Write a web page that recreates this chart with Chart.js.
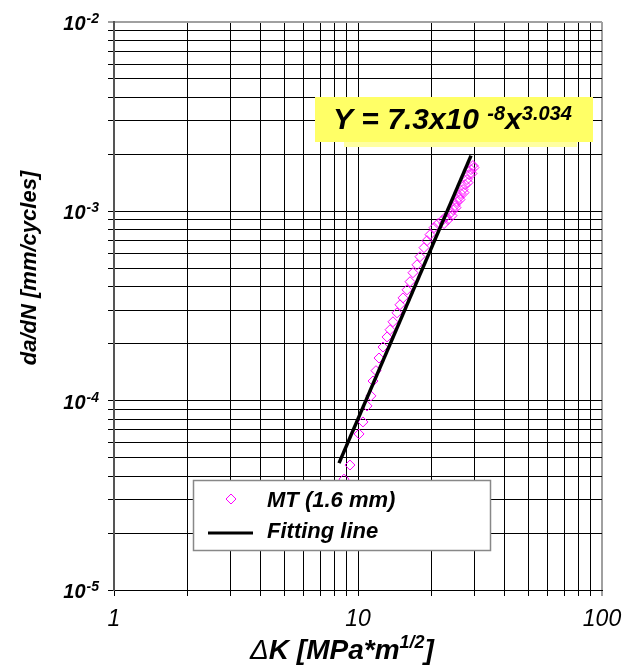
<!DOCTYPE html>
<html>
<head>
<meta charset="utf-8">
<script src="https://cdn.jsdelivr.net/npm/chart.js@4/dist/chart.umd.min.js"></script>
<style>
  body { margin: 0; background: #fff; }
  canvas { display: block; }
</style>
</head>
<body>
<canvas id="crackChart" width="624" height="665"></canvas>
<script>
// ---------------------------
// DATA
// ---------------------------
const mtDK = [8.76, 9.27, 10.1, 10.48, 10.89, 11.30, 11.52, 11.85, 12.19, 12.66,
  13.15, 13.53, 13.91, 14.45, 14.86, 15.29, 15.88, 16.34, 16.80, 17.45,
  17.95, 18.64, 19.18, 19.73, 20.49, 21.28, 22.10, 22.52, 22.95, 23.38,
  23.83, 24.28, 24.51, 24.98, 25.21, 25.45, 25.94, 26.18, 26.43, 26.94,
  27.19, 27.45, 27.97, 28.23, 28.50, 29.05, 29.32, 29.60, 29.88];
const mtRate = [3.85e-5, 4.57e-5, 6.67e-5, 7.72e-5, 9.38e-5, 1.06e-4, 1.27e-4, 1.44e-4, 1.68e-4, 1.92e-4,
  2.17e-4, 2.37e-4, 2.61e-4, 2.91e-4, 3.21e-4, 3.49e-4, 3.85e-4, 4.25e-4, 4.74e-4, 5.22e-4,
  5.76e-4, 6.43e-4, 7.00e-4, 7.53e-4, 8.20e-4, 8.61e-4, 8.93e-4, 8.61e-4, 9.38e-4, 9.04e-4,
  9.72e-4, 9.49e-4, 1.021e-3, 1.072e-3, 1.046e-3, 1.125e-3, 1.182e-3, 1.154e-3, 1.241e-3, 1.303e-3,
  1.256e-3, 1.384e-3, 1.471e-3, 1.418e-3, 1.563e-3, 1.662e-3, 1.583e-3, 1.745e-3, 1.703e-3];

// fitting line end points
const fitDK = [8.36, 29.05];
const fitRate = [4.68e-5, 1.97e-3];

// axes
const xDecades = [1, 10];
const yDecades = [1e-5, 1e-4, 1e-3];
const mantissas = [1, 2, 3, 4, 5, 6, 7, 8, 9];
const xMax = 100, yMax = 1e-2;
const xTickLabels = ['1', '10', '100'];
const yTickExps = ['-5', '-4', '-3', '-2'];

const FONT = '"Liberation Sans", Arial, sans-serif';

function gridValues(decades, top) {
  const out = [];
  decades.forEach(d => mantissas.forEach(m => out.push(+(m * d).toPrecision(3))));
  out.push(top);
  return out;
}
const xGrid = gridValues(xDecades, xMax);
const yGrid = gridValues(yDecades, yMax);

// ---------------------------
// TEXT / BOX OVERLAYS
// ---------------------------
const overlay = {
  id: 'overlay',
  afterDraw(chart) {
    const c = chart.ctx;
    const xs = chart.scales.x, ys = chart.scales.y;
    c.save();
    c.fillStyle = '#000';

    // y tick labels 10^n
    c.textBaseline = 'alphabetic';
    c.textAlign = 'left';
    yTickExps.forEach(e => {
      const py = ys.getPixelForValue(Math.pow(10, Number(e)));
      c.font = 'italic bold 20px ' + FONT;
      const w1 = c.measureText('10').width;
      c.font = 'italic bold 14px ' + FONT;
      const w2 = c.measureText(e).width;
      const x0 = 99 - w1 - w2 - 1;
      c.font = 'italic bold 20px ' + FONT;
      c.fillText('10', x0, py + 8);
      c.font = 'italic bold 14px ' + FONT;
      c.fillText(e, x0 + w1 + 1, py + 1);
    });

    // x tick labels
    c.font = 'italic 23px ' + FONT;
    c.textAlign = 'center';
    xTickLabels.forEach(t => {
      c.fillText(t, xs.getPixelForValue(Number(t)), 626);
    });

    // x title: ΔK [MPa*m^1/2]
    c.textAlign = 'left';
    const parts = [
      ['Δ', 'italic 28px '],
      ['K [MPa*m', 'italic bold 28px '],
      ['1/2', 'italic bold 18px ', -11],
      [']', 'italic bold 28px ']
    ];
    let total = 0;
    parts.forEach(p => { c.font = p[1] + FONT; total += c.measureText(p[0]).width; });
    let x = 342 - total / 2;
    parts.forEach(p => {
      c.font = p[1] + FONT;
      c.fillText(p[0], x, 659 + (p[2] || 0));
      x += c.measureText(p[0]).width;
    });

    // y title
    c.save();
    c.translate(30, 268);
    c.rotate(-Math.PI / 2);
    c.font = 'italic bold 22px ' + FONT;
    c.textAlign = 'center';
    c.textBaseline = 'middle';
    c.fillText('da/dN [mm/cycles]', 0, 0);
    c.restore();

    // equation box
    c.fillStyle = '#ffffa0';
    c.fillRect(344, 104, 233, 43);
    c.fillStyle = '#ffff66';
    c.fillRect(315, 97, 278, 45);
    c.fillStyle = '#000';
    const eq = [
      ['Y = 7.3x10 ', 'italic bold 30px ', 0],
      ['-8', 'italic bold 20px ', -9],
      ['x', 'italic bold 30px ', 0],
      ['3.034', 'italic bold 20px ', -9]
    ];
    x = 333;
    eq.forEach(p => {
      c.font = p[1] + FONT;
      c.fillText(p[0], x, 129 + p[2]);
      x += c.measureText(p[0]).width;
    });

    // legend box
    c.fillStyle = '#fff';
    c.fillRect(193, 480, 297, 70);
    c.strokeStyle = '#888';
    c.lineWidth = 1.5;
    c.strokeRect(193.5, 480.5, 297, 70);
    const ds = chart.data.datasets;
    // marker
    c.strokeStyle = ds[0].borderColor;
    c.lineWidth = 1;
    c.beginPath();
    c.moveTo(231, 494); c.lineTo(236, 499); c.lineTo(231, 504); c.lineTo(226, 499); c.closePath();
    c.stroke();
    // line sample
    c.strokeStyle = ds[1].borderColor;
    c.lineWidth = 3;
    c.beginPath();
    c.moveTo(208, 533); c.lineTo(253, 533);
    c.stroke();
    c.fillStyle = '#000';
    c.font = 'italic bold 22px ' + FONT;
    c.textBaseline = 'middle';
    c.fillText(ds[0].label, 267, 501);
    c.fillText(ds[1].label, 267, 532);
    c.restore();
  }
};

// ---------------------------
// CHART
// ---------------------------
const ctx = document.getElementById('crackChart').getContext('2d');

function gridColor(edge) {
  return c => (c.tick && c.tick.value === edge) ? '#a0a0a0' : '#000';
}
function gridWidth(edge) {
  return c => (c.tick && c.tick.value === edge) ? 2 : 1;
}

new Chart(ctx, {
  type: 'scatter',
  data: {
    datasets: [{
      label: 'MT (1.6 mm)',
      data: mtDK.map((v, i) => ({ x: v, y: mtRate[i] })),
      pointStyle: 'rectRot',
      pointRadius: 5,
      borderColor: '#ff00ff',
      backgroundColor: 'rgba(0,0,0,0)',
      borderWidth: 1,
      order: 2
    }, {
      label: 'Fitting line',
      type: 'line',
      data: fitDK.map((v, i) => ({ x: v, y: fitRate[i] })),
      borderColor: '#000',
      borderWidth: 3.5,
      pointRadius: 0,
      fill: false,
      tension: 0,
      order: 1
    }]
  },
  options: {
    responsive: false,
    animation: false,
    layout: { padding: { top: 22, right: 22, left: 0, bottom: 0 } },
    plugins: { legend: { display: false }, tooltip: { enabled: false } },
    scales: {
      x: {
        type: 'logarithmic',
        position: 'bottom',
        min: 1,
        max: xMax,
        ticks: { display: false },
        grid: { color: gridColor(xMax), lineWidth: gridWidth(xMax), tickLength: 6 },
        border: { color: '#000', width: 1 },
        afterBuildTicks: s => { s.ticks = xGrid.map(v => ({ value: v })); },
        afterFit: s => { s.height = 75; }
      },
      y: {
        type: 'logarithmic',
        position: 'left',
        min: 1e-5,
        max: yMax,
        ticks: { display: false },
        grid: { color: gridColor(yMax), lineWidth: gridWidth(yMax), tickLength: 6 },
        border: { color: '#555', width: 2 },
        afterBuildTicks: s => { s.ticks = yGrid.map(v => ({ value: v })); },
        afterFit: s => { s.width = 114; }
      }
    }
  },
  plugins: [overlay]
});
</script>
</body>
</html>
